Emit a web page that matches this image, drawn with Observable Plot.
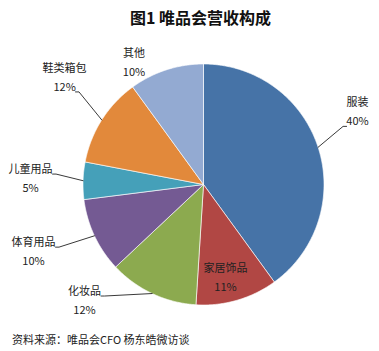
<!DOCTYPE html>
<html><head><meta charset="utf-8">
<script src="https://cdn.jsdelivr.net/npm/d3@7"></script>
<script src="https://cdn.jsdelivr.net/npm/@observablehq/plot@0.6"></script>
<style>
body{margin:0;background:#fff;font-family:"Noto Sans CJK SC","Noto Sans",sans-serif;}
#wrap{position:relative;width:379px;height:351px;background:#fff;overflow:hidden;}
#title{position:absolute;top:0;left:0;width:379px;height:34px;line-height:34px;text-align:center;padding-left:22px;box-sizing:border-box;font-size:16px;font-weight:bold;color:#111;}
#chart{position:absolute;top:34px;left:0;}
#cap{position:absolute;top:328px;left:12px;font-size:11px;line-height:22px;color:#222;white-space:nowrap;}
</style></head><body>
<div id="wrap">
  <div id="title">图1 唯品会营收构成</div>
  <div id="chart"></div>
  <div id="cap">资料来源：唯品会CFO 杨东皓微访谈</div>
</div>
<script>
// data
const categories = ["服装", "家居饰品", "化妆品", "体育用品", "儿童用品", "鞋类箱包", "其他"];
const values = [40, 11, 12, 10, 5, 12, 10];
const colors = ["#4673A7", "#B14744", "#8CAA4F", "#745A93", "#45A0B9", "#E2893B", "#93AAD2"];
// label layout (relative to each slice's mid-angle)
const labelAngleShift = [-7.1, 2.9, 20.4, 3.5, 0, 5.1, -11.7];
const labelRadius = [1.411, 0.793, 1.382, 1.518, 1.436, 1.453, 1.165];

const cx = 203, cy = 150, R = 120.5;
const arcs = d3.pie().sort(null).value(d => d)(values);

const slices = [];
arcs.forEach((a, i) => {
  const name = categories[i];
  const n = Math.max(2, Math.ceil((a.endAngle - a.startAngle) / (Math.PI / 360)));
  slices.push({name, x: 0, y: 0});
  for (let k = 0; k <= n; k++) {
    const t = a.startAngle + (a.endAngle - a.startAngle) * k / n;
    slices.push({name, x: R * Math.sin(t), y: -R * Math.cos(t)});
  }
  slices.push({name, x: 0, y: 0});
});

function tw(s) {
  let w = 0;
  for (const ch of s) w += /[\u2e80-\u9fff\uff00-\uffef]/.test(ch) ? 11 : (ch === "%" ? 9.6 : 6.1);
  return w;
}

const labels = arcs.map((a, i) => {
  const mid = (a.startAngle + a.endAngle) / 2;
  const m = mid + labelAngleShift[i] * Math.PI / 180;
  const r = labelRadius[i] * R;
  return {name: categories[i], pct: values[i] + "%", mid, x: r * Math.sin(m), y: -r * Math.cos(m), outside: labelRadius[i] > 1.2};
});

const leaders = [];
labels.filter(d => d.outside).forEach(d => {
  const ex = R * Math.sin(d.mid), ey = -R * Math.cos(d.mid);
  const nameY = d.y - 9.5, pctY = d.y + 9.5;
  const useName = Math.abs(nameY + 4.5 - ey) < Math.abs(pctY + 4.5 - ey);
  const lineY = (useName ? nameY : pctY) + 4.5;
  const half = tw(useName ? d.name : d.pct) / 2;
  const side = d.x < ex ? 1 : -1;
  const endX = d.x + side * half;
  const kneeX = endX + side * 3.5;
  leaders.push({name: d.name, x: endX, y: lineY});
  leaders.push({name: d.name, x: kneeX, y: lineY});
  leaders.push({name: d.name, x: ex, y: ey});
});

const font = '"Noto Sans CJK SC", "Noto Sans", sans-serif';
const chart = Plot.plot({
  width: 379,
  height: 292,
  margin: 0,
  style: {background: "white", fontFamily: font, overflow: "visible"},
  x: {domain: [-R, R], range: [cx - R, cx + R], axis: null},
  y: {domain: [-R, R], range: [cy - R, cy + R], axis: null},
  color: {domain: categories, range: colors},
  marks: [
    Plot.line(slices, {x: "x", y: "y", z: "name", fill: "name", stroke: "white", strokeWidth: 0.8, strokeOpacity: 0.8, curve: "linear"}),
    Plot.line(leaders, {x: "x", y: "y", z: "name", stroke: "#222", strokeWidth: 0.9, curve: "linear"}),
    Plot.text(labels, {x: "x", y: "y", text: "name", dy: -9.5, fontSize: 11, fill: "#222", fontFamily: font}),
    Plot.text(labels, {x: "x", y: "y", text: "pct", dy: 9.5, fontSize: 11, fill: "#222", fontFamily: font})
  ]
});
document.getElementById("chart").appendChild(chart);
</script>
</body></html>
